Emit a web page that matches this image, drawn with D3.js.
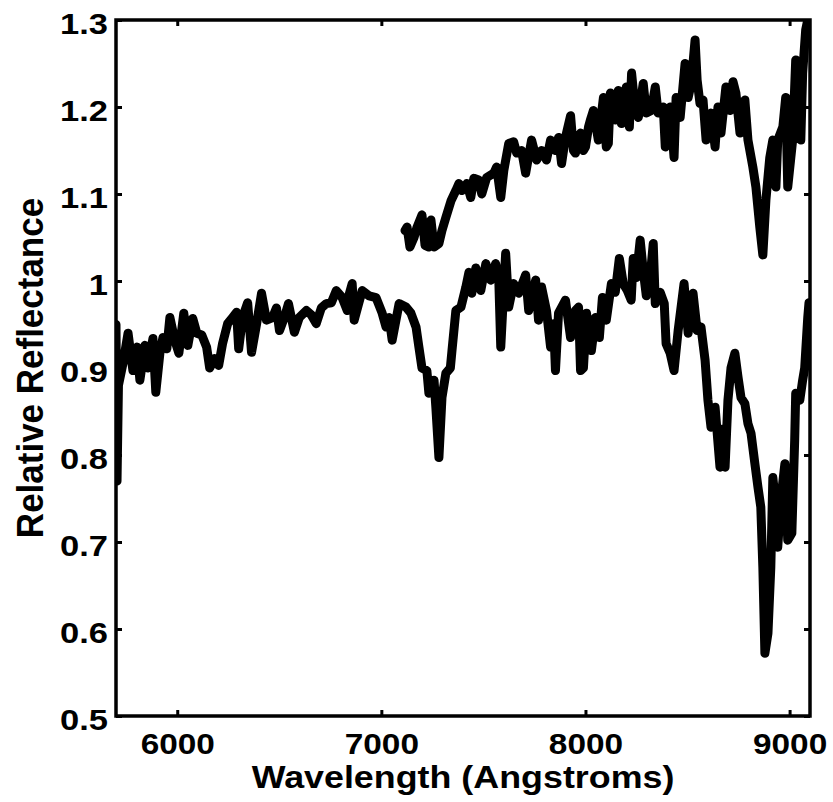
<!DOCTYPE html>
<html>
<head>
<meta charset="utf-8">
<script src="https://cdn.jsdelivr.net/npm/d3@7"></script>
<style>
  body { margin: 0; background: #fff; }
  text { font-family: "Liberation Sans", Arial, sans-serif; font-weight: bold; fill: #000; }
</style>
</head>
<body>
<div id="chart"></div>
<script>
// lower spectrum (full range)
var lowerWave = [5700, 5705, 5712, 5734, 5759, 5783, 5803, 5817, 5842, 5856, 5881, 5895, 5915, 5930, 5949, 5964, 5988,
  6008, 6032, 6052, 6076, 6096, 6120, 6144, 6159, 6183, 6203, 6222, 6247, 6271, 6291, 6301, 6320, 6345, 6364, 6389,
  6413, 6437, 6467, 6486, 6501, 6525, 6545, 6574, 6598, 6633, 6657, 6681, 6706, 6730, 6755, 6779, 6808, 6833, 6843,
  6857, 6867, 6906, 6940, 6974, 7004, 7023, 7038, 7053, 7087, 7121, 7145, 7170, 7184, 7199, 7223, 7233, 7258, 7267,
  7282, 7297, 7316, 7338, 7346, 7365, 7390, 7414, 7429, 7443, 7463, 7487, 7512, 7536, 7560, 7575, 7585, 7609, 7624,
  7648, 7673, 7707, 7722, 7756, 7770, 7785, 7809, 7829, 7844, 7853, 7868, 7902, 7927, 7951, 7966, 7976, 7990, 8005,
  8029, 8049, 8068, 8083, 8102, 8127, 8146, 8166, 8185, 8205, 8224, 8234, 8249, 8268, 8283, 8298, 8317, 8332, 8342,
  8366, 8386, 8395, 8415, 8434, 8454, 8483, 8503, 8527, 8547, 8566, 8586, 8600, 8615, 8635, 8659, 8674, 8684, 8698,
  8713, 8732, 8747, 8762, 8781, 8796, 8811, 8830, 8845, 8859, 8869, 8879, 8894, 8908, 8918, 8933, 8942, 8957, 8977,
  8991, 9011, 9025, 9030, 9050, 9064, 9074, 9089, 9095];
var lowerRefl = [0.95, 0.77, 0.88, 0.905, 0.94, 0.897, 0.924, 0.886, 0.926, 0.90, 0.934, 0.872, 0.917, 0.935, 0.922, 0.958, 0.932,
  0.917, 0.963, 0.926, 0.957, 0.94, 0.938, 0.924, 0.90, 0.911, 0.903, 0.928, 0.951, 0.958, 0.964, 0.922, 0.958, 0.975, 0.918, 0.951,
  0.986, 0.955, 0.958, 0.969, 0.943, 0.958, 0.974, 0.941, 0.958, 0.966, 0.961, 0.951, 0.969, 0.974, 0.975, 0.989, 0.981, 0.966, 0.985,
  0.997, 0.955, 0.989, 0.983, 0.981, 0.963, 0.947, 0.958, 0.932, 0.974, 0.97, 0.963, 0.947, 0.924, 0.90, 0.897, 0.871, 0.886, 0.855,
  0.797, 0.866, 0.894, 0.90, 0.92, 0.966, 0.97, 0.993, 1.01, 0.986, 1.015, 0.989, 1.02, 1.001, 1.02, 1.004, 0.924, 1.032, 0.97,
  0.997, 0.986, 1.007, 0.966, 1.001, 0.955, 0.993, 0.966, 0.924, 0.951, 0.897, 0.963, 0.978, 0.935, 0.966, 0.97, 0.897, 0.90, 0.963,
  0.92, 0.958, 0.935, 0.981, 0.955, 0.997, 0.987, 1.026, 0.997, 0.989, 0.978, 1.026, 1.004, 1.047, 1.012, 0.983, 1.004, 1.043, 0.974,
  0.987, 0.974, 0.928, 0.917, 0.897, 0.943, 0.997, 0.94, 0.986, 0.943, 0.947, 0.909, 0.863, 0.832, 0.855, 0.786, 0.83, 0.786, 0.863,
  0.90, 0.917, 0.89, 0.866, 0.859, 0.836, 0.825, 0.79, 0.763, 0.74, 0.671, 0.572, 0.595, 0.671, 0.774, 0.74, 0.694, 0.748, 0.79,
  0.702, 0.71, 0.817, 0.871, 0.863, 0.886, 0.90, 0.958, 0.975];

// upper spectrum (starts near 7100 A)
var upperWave = [7116, 7126, 7140, 7160, 7175, 7199, 7214, 7233, 7243, 7258, 7282, 7297, 7316, 7341, 7365, 7380, 7394,
  7419, 7438, 7453, 7477, 7492, 7516, 7551, 7565, 7585, 7600, 7624, 7648, 7663, 7687, 7707, 7736, 7761, 7785, 7809,
  7829, 7853, 7868, 7883, 7902, 7927, 7941, 7951, 7966, 7976, 7990, 8000, 8015, 8024, 8039, 8063, 8088, 8102, 8112,
  8122, 8146, 8161, 8176, 8200, 8215, 8226, 8244, 8259, 8283, 8298, 8322, 8342, 8356, 8381, 8391, 8415, 8434, 8444,
  8464, 8488, 8503, 8518, 8537, 8547, 8561, 8576, 8591, 8615, 8635, 8649, 8664, 8688, 8708, 8723, 8737, 8757, 8781,
  8796, 8820, 8835, 8854, 8869, 8884, 8903, 8918, 8933, 8942, 8967, 8981, 8991, 9015, 9030, 9050, 9055, 9064, 9079, 9089];
var upperRefl = [1.058, 1.062, 1.039, 1.05, 1.062, 1.076, 1.041, 1.039, 1.07, 1.039, 1.043, 1.058, 1.073, 1.092, 1.104, 1.112, 1.104,
  1.112, 1.096, 1.118, 1.116, 1.10, 1.119, 1.124, 1.131, 1.096, 1.127, 1.158, 1.16, 1.147, 1.15, 1.124, 1.162, 1.139, 1.15, 1.139,
  1.162, 1.15, 1.165, 1.135, 1.165, 1.19, 1.15, 1.147, 1.165, 1.17, 1.15, 1.154, 1.177, 1.185, 1.196, 1.162, 1.211, 1.154, 1.158,
  1.216, 1.185, 1.219, 1.181, 1.223, 1.177, 1.239, 1.196, 1.188, 1.227, 1.193, 1.196, 1.223, 1.193, 1.20, 1.154, 1.20, 1.142, 1.211,
  1.188, 1.25, 1.211, 1.227, 1.277, 1.231, 1.204, 1.208, 1.162, 1.193, 1.154, 1.20, 1.17, 1.223, 1.196, 1.229, 1.216, 1.17, 1.208,
  1.162, 1.131, 1.108, 1.062, 1.03, 1.093, 1.142, 1.162, 1.108, 1.162, 1.177, 1.211, 1.108, 1.162, 1.254, 1.193, 1.162, 1.239, 1.289, 1.30];

var xTicks = [6000, 7000, 8000, 9000];
var yTicks = [0.5, 0.6, 0.7, 0.8, 0.9, 1.0, 1.1, 1.2, 1.3];
var yTickLabels = ["0.5", "0.6", "0.7", "0.8", "0.9", "1", "1.1", "1.2", "1.3"];

var width = 833, height = 802,
    margin = { top: 20, right: 23, bottom: 86, left: 116 },
    innerW = width - margin.left - margin.right,
    innerH = height - margin.top - margin.bottom,
    stretch = 1.15; // glyphs in the original are a bit wider than Liberation Sans

var svg = d3.select("#chart").append("svg")
    .attr("width", width)
    .attr("height", height);

var g = svg.append("g")
    .attr("transform", "translate(" + margin.left + "," + margin.top + ")");

var x = d3.scaleLinear().domain([5700, 9100]).range([0, innerW]);
var y = d3.scaleLinear().domain([0.5, 1.3]).range([innerH, 0]);

g.append("clipPath").attr("id", "plotClip")
  .append("rect").attr("width", innerW).attr("height", innerH);

// axes: ticks pointing inward on all four sides
function styleAxis(sel) {
  sel.select(".domain").remove();
  sel.selectAll(".tick line").attr("stroke", "#000").attr("stroke-width", 3);
}

var xBottom = g.append("g")
    .attr("transform", "translate(0," + innerH + ")")
    .call(d3.axisBottom(x).tickValues(xTicks).tickSizeInner(-6).tickSizeOuter(0).tickFormat(d3.format("d")))
    .call(styleAxis);
xBottom.selectAll(".tick text")
    .attr("y", 38).attr("dy", null)
    .attr("transform", "scale(" + stretch + ",1)")
    .style("font-size", "29px");

g.append("g")
    .call(d3.axisTop(x).tickValues(xTicks).tickSizeInner(-6).tickSizeOuter(0).tickFormat(""))
    .call(styleAxis);

var yLeft = g.append("g")
    .call(d3.axisLeft(y).tickValues(yTicks).tickSizeInner(-6).tickSizeOuter(0)
      .tickFormat(function(d, i) { return yTickLabels[i]; }))
    .call(styleAxis);
yLeft.selectAll(".tick text")
    .attr("x", -8 / stretch).attr("dy", 13)
    .attr("transform", "scale(" + stretch + ",1)")
    .style("font-size", "30px");

g.append("g")
    .attr("transform", "translate(" + innerW + ",0)")
    .call(d3.axisRight(y).tickValues(yTicks).tickSizeInner(-6).tickSizeOuter(0).tickFormat(""))
    .call(styleAxis);

g.append("rect")
    .attr("width", innerW).attr("height", innerH)
    .attr("fill", "none").attr("stroke", "#000").attr("stroke-width", 3.5);

// spectra
var line = d3.line()
    .x(function(d) { return x(d[0]); })
    .y(function(d) { return y(d[1]); });

var series = [d3.zip(lowerWave, lowerRefl), d3.zip(upperWave, upperRefl)];

g.append("g").attr("clip-path", "url(#plotClip)")
  .selectAll("path.spectrum")
  .data(series)
  .enter().append("path")
    .attr("class", "spectrum")
    .attr("d", line)
    .attr("fill", "none")
    .attr("stroke", "#000")
    .attr("stroke-width", 9)
    .attr("stroke-linejoin", "round")
    .attr("stroke-linecap", "round");

// axis titles
svg.append("text")
    .attr("transform", "translate(" + (margin.left + innerW / 2) + ",788) scale(1.12,1)")
    .attr("text-anchor", "middle")
    .style("font-size", "32px")
    .text("Wavelength (Angstroms)");

svg.append("text")
    .attr("transform", "translate(43," + (margin.top + innerH / 2) + ") rotate(-90) scale(1,1.04)")
    .attr("text-anchor", "middle")
    .style("font-size", "35px")
    .text("Relative Reflectance");
</script>
</body>
</html>
